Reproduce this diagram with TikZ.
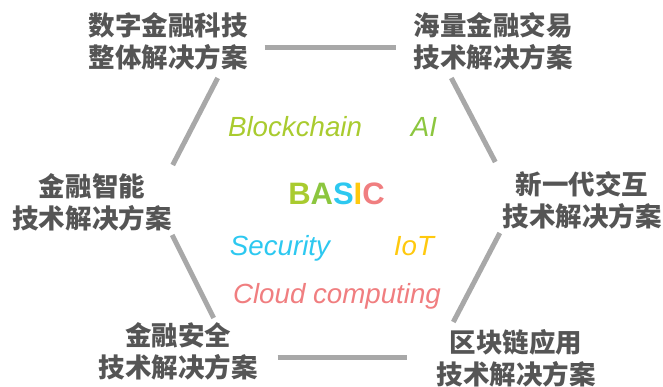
\documentclass[tikz,border=0pt]{standalone}
\usepackage{fontspec}
\setmainfont{Liberation Sans}
\newfontfamily\cjk{Noto Sans CJK SC}
\definecolor{txtgray}{HTML}{555555}
\definecolor{linegray}{HTML}{A8A8A8}
\definecolor{bgreen}{HTML}{A9CB2F}
\definecolor{agreen}{HTML}{8CC63F}
\definecolor{scyan}{HTML}{2DC8F0}
\definecolor{iyellow}{HTML}{FFC90E}
\definecolor{cpink}{HTML}{F07E80}
\tikzset{
  sol/.style={align=center, inner sep=0pt, text=txtgray,
    font=\cjk\bfseries\fontsize{26.5}{32}\selectfont},
  kw/.style={anchor=base, inner sep=0pt, font=\itshape\fontsize{27.7}{30}\selectfont},
  edge/.style={line width=5pt, linegray}
}
\begin{document}
\begin{tikzpicture}[x=1pt,y=-1pt]
	\useasboundingbox (0,0) rectangle (663,387);

	\node[sol] (tl) at (168,41) {数字金融科技\\整体解决方案};
	\node[sol] (tr) at (493,41) {海量金融交易\\技术解决方案};
	\node[sol] (ml) at (92,202) {金融智能\\技术解决方案};
	\node[sol] (mr) at (582,200) {新一代交互\\技术解决方案};
	\node[sol] (bl) at (178,351) {金融安全\\技术解决方案};
	\node[sol] (br) at (516,358) {区块链应用\\技术解决方案};

	\draw[edge] ([shift={(17,7)}]tl.east) -- ([shift={(-17,7)}]tr.west);
	\draw[edge] ([shift={(-30,37)}]tl.east) -- ([shift={(1,-37)}]ml.east);
	\draw[edge] ([shift={(38,37)}]tr.west) -- ([shift={(-7,-38)}]mr.west);
	\draw[edge] ([shift={(0.5,33)}]ml.east) -- ([shift={(-44,-33)}]bl.east);
	\draw[edge] ([shift={(-2.5,33)}]mr.west) -- ([shift={(17,-36)}]br.west);
	\draw[edge] ([shift={(20,6)}]bl.east) -- ([shift={(-29,-1)}]br.west);

	\node[kw, bgreen] (chain) at (295,137) {Blockchain};
	\node[kw, agreen] (ai) at (424,137) {AI};
	\node[anchor=base, inner sep=0pt, font=\bfseries\fontsize{31}{34}\selectfont] (basic) at (336.5,205)
	  {\textcolor{bgreen}{B}\textcolor{agreen}{A}\textcolor{scyan}{S}\textcolor{iyellow}{I}\textcolor{cpink}{C}};
	\node[kw, scyan] (sec) at (280,255) {Security};
	\node[kw, iyellow] (iot) at (414,255) {IoT};
	\node[kw, cpink] (cloud) at (337,303) {Cloud computing};
\end{tikzpicture}
\end{document}
